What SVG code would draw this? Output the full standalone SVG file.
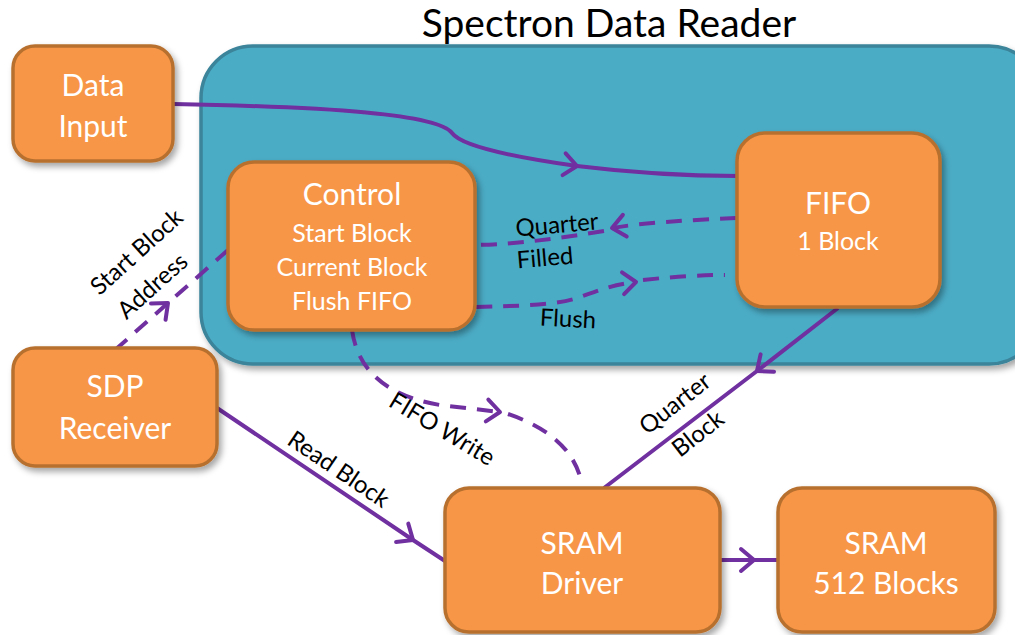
<svg xmlns="http://www.w3.org/2000/svg" width="1015" height="635" viewBox="0 0 1015 635">
<defs>
<filter id="sh" x="-10%" y="-10%" width="130%" height="130%">
<feDropShadow dx="3" dy="4" stdDeviation="3" flood-color="#000" flood-opacity="0.35"/>
</filter>
<marker id="chev" markerUnits="userSpaceOnUse" viewBox="-16 -14 20 28" markerWidth="20" markerHeight="28" refX="0" refY="0" orient="auto" overflow="visible">
<path d="M-13,-11 L0,0 L-13,11" fill="none" stroke="#7030A0" stroke-width="4" stroke-linecap="round" stroke-linejoin="round"/>
</marker>
<style>
.node{fill:#F79646;stroke:#B8702F;stroke-width:3.5;filter:url(#sh)}
.nt{font-family:Lato,"Open Sans",sans-serif;fill:#fff;text-anchor:middle}
.big{font-size:30px}
.sm{font-size:25px}
.c{fill:none;stroke:#7030A0;stroke-width:4;stroke-linecap:butt}
.d{stroke-dasharray:16 11}
.lb{font-family:Lato,"Open Sans",sans-serif;font-size:24px;fill:#000;text-anchor:middle}
</style>
</defs>
<rect width="1015" height="635" fill="#fff"/>
<g id="container">
<rect x="201" y="46" width="840" height="318" rx="52" fill="#4BACC6" stroke="#3B849A" stroke-width="3.5" filter="url(#sh)"/>
<text x="609" y="37" font-family="Lato,'Open Sans',sans-serif" font-size="39" text-anchor="middle" fill="#000">Spectron Data Reader</text>
</g>
<g id="connectors">
<path class="c" d="M173,104 C330,107 438,114 452,133 C462,147 520,158 577,166" marker-end="url(#chev)"/>
<path class="c" d="M577,166 C650,175 700,176 738,176"/>
<path class="c d" d="M736,218 C690,220 640,223 612,228" marker-end="url(#chev)"/>
<path class="c d" d="M604,231 C560,238 520,244 476,245"/>
<path class="c d" d="M476,307 C520,306 560,305 580,297 C600,290 615,284 636,282" marker-end="url(#chev)"/>
<path class="c d" d="M643,280 C680,276 705,275 725,275"/>
<path class="c d" d="M115,350 L168,303 L228,250" marker-mid="url(#chev)"/>
<path class="c d" d="M352,330 C357,365 380,395 440,405 L500,412" marker-end="url(#chev)"/>
<path class="c d" d="M508,414 C540,425 575,445 582,485"/>
<path class="c" d="M217,408 L413,540 L445,561" marker-mid="url(#chev)"/>
<path class="c" d="M838,308 L757,371 L604,488" marker-mid="url(#chev)"/>
<path class="c" d="M720,560 L754,560 L778,560" marker-mid="url(#chev)"/>
<text class="lb" x="557" y="233" transform="rotate(-5 557 225)">Quarter</text>
<text class="lb" x="545" y="266" transform="rotate(-5 545 258)">Filled</text>
<text class="lb" x="568" y="327" transform="rotate(3 568 319)">Flush</text>
<text class="lb" transform="translate(142,258) rotate(-42)">Start Block</text>
<text class="lb" transform="translate(158,292) rotate(-42)">Address</text>
<text class="lb" transform="translate(438,436) rotate(31)">FIFO Write</text>
<text class="lb" transform="translate(334,476) rotate(34)">Read Block</text>
<text class="lb" transform="translate(680,410) rotate(-38)">Quarter</text>
<text class="lb" transform="translate(703,440) rotate(-38)">Block</text>
</g>
<g id="data-input">
<rect class="node" x="13" y="46" width="160" height="115" rx="22"/>
<text class="nt big" x="93" y="96">Data</text>
<text class="nt big" x="93" y="137">Input</text>
</g>
<g id="control">
<rect class="node" x="228" y="162" width="247" height="168" rx="26"/>
<text class="nt big" x="352" y="205">Control</text>
<text class="nt sm" x="352" y="242">Start Block</text>
<text class="nt sm" x="352" y="276">Current Block</text>
<text class="nt sm" x="352" y="310">Flush FIFO</text>
</g>
<g id="fifo">
<rect class="node" x="737" y="133" width="203" height="174" rx="28"/>
<text class="nt big" x="838" y="214">FIFO</text>
<text class="nt sm" x="838" y="250">1 Block</text>
</g>
<g id="sdp-receiver">
<rect class="node" x="13" y="348" width="204" height="118" rx="22"/>
<text class="nt big" x="115" y="397">SDP</text>
<text class="nt big" x="115" y="439">Receiver</text>
</g>
<g id="sram-driver">
<rect class="node" x="445" y="488" width="275" height="144" rx="24"/>
<text class="nt big" x="582" y="554">SRAM</text>
<text class="nt big" x="582" y="594">Driver</text>
</g>
<g id="sram">
<rect class="node" x="778" y="488" width="217" height="144" rx="24"/>
<text class="nt big" x="886" y="554">SRAM</text>
<text class="nt big" x="886" y="594">512 Blocks</text>
</g>
</svg>
